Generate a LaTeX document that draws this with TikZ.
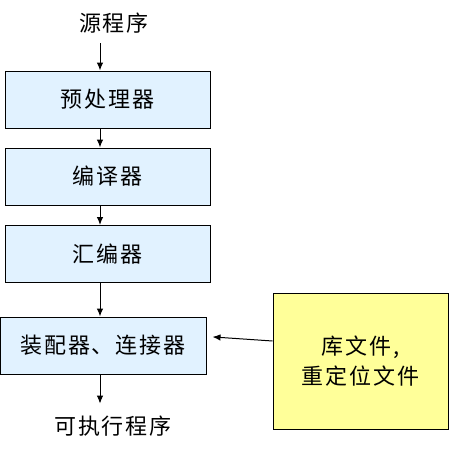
\documentclass[tikz,border=0pt]{standalone}
\usepackage{fontspec}
\setmainfont{Liberation Serif}
\newfontfamily\cjk[LetterSpace=8]{Noto Sans CJK SC}
\usetikzlibrary{arrows.meta, calc, positioning, shapes}

\definecolor{stageblue}{RGB}{225,242,255}
\definecolor{libyellow}{RGB}{255,255,153}

\tikzset{
	stage/.style={draw, fill=stageblue, line width=1pt, minimum width=205pt, minimum height=57pt, inner sep=0pt, font=\cjk\fontsize{22}{30}\selectfont},
	libbox/.style={draw, fill=libyellow, line width=1pt, minimum width=175pt, minimum height=136pt, inner sep=0pt, align=center, font=\cjk\fontsize{22}{30}\selectfont},
	plain/.style={inner sep=0pt, font=\cjk\fontsize{22}{30}\selectfont},
	flow/.style={-{Latex[length=8pt, width=6.5pt]}, line width=1pt}
}

\begin{document}
\begin{tikzpicture}[x=1pt, y=-1pt]
	\useasboundingbox (0,0) rectangle (449,453);

	\coordinate (col) at (100,0);

	\node[plain] (src) at (114,23) {源程序};
	\node[stage] (pre) at (107.5,99.5) {预处理器};
	\node[stage] (comp) at (107.5,176.5) {编译器};
	\node[stage] (asm) at (107.5,254) {汇编器};
	\node[stage, minimum width=206pt] (link) at (103,345.5) {装配器、连接器};
	\node[plain] (exe) at (113,426) {可执行程序};
	\node[libbox] (lib) at (360.5,361) {库文件,\\重定位文件};

	\draw[flow] ([yshift=-10pt]col |- src.south) -- (col |- pre.north);
	\draw[flow] (col |- pre.south) -- (col |- comp.north);
	\draw[flow] (col |- comp.south) -- (col |- asm.north);
	\draw[flow] (col |- asm.south) -- (col |- link.north);
	\draw[flow] (col |- link.south) -- ([yshift=12pt]col |- exe.north);
	\draw[flow, shorten >=6pt] ([yshift=20pt]lib.west) -- ([yshift=9pt]link.east);
\end{tikzpicture}
\end{document}
